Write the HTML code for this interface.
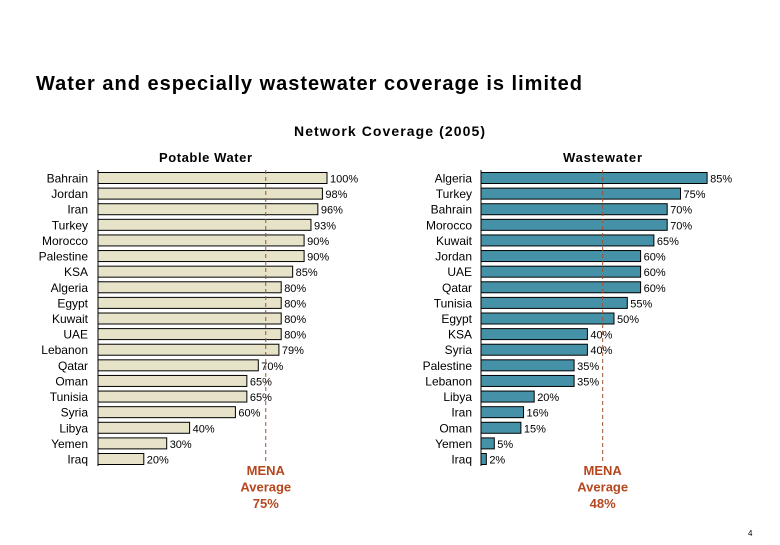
<!DOCTYPE html>
<html><head><meta charset="utf-8"><style>
body{margin:0;background:#fff;}
svg text{font-family:"Liberation Sans",Arial,sans-serif;}
</style></head><body>
<svg width="780" height="540" viewBox="0 0 780 540">
<text x="36" y="90" font-size="20" font-weight="bold" fill="#000" textLength="546" lengthAdjust="spacing">Water and especially wastewater coverage is limited</text>
<text x="294" y="136" font-size="14" font-weight="bold" textLength="191" lengthAdjust="spacing">Network Coverage (2005)</text>
<text x="159" y="162" font-size="13" font-weight="bold" textLength="93" lengthAdjust="spacing">Potable Water</text>
<text x="563" y="162" font-size="13" font-weight="bold" textLength="79" lengthAdjust="spacing">Wastewater</text>
<g id="left"></g><g id="right"></g>
<text x="748" y="536" font-size="8">4</text>
</svg>
<script>
const potableCountries=["Bahrain","Jordan","Iran","Turkey","Morocco","Palestine","KSA","Algeria","Egypt","Kuwait","UAE","Lebanon","Qatar","Oman","Tunisia","Syria","Libya","Yemen","Iraq"];
const potableValues=[100,98,96,93,90,90,85,80,80,80,80,79,70,65,65,60,40,30,20];
const wasteCountries=["Algeria","Turkey","Bahrain","Morocco","Kuwait","Jordan","UAE","Qatar","Tunisia","Egypt","KSA","Syria","Palestine","Lebanon","Libya","Iran","Oman","Yemen","Iraq"];
const wasteValues=[85,75,70,70,65,60,60,60,55,50,40,40,35,35,20,16,15,5,2];
const potableAvg=75;
const wasteAvg=48;
</script>
<script>
const NS="http://www.w3.org/2000/svg";
function mk(t,a,p){const e=document.createElementNS(NS,t);for(const k in a)e.setAttribute(k,a[k]);p.appendChild(e);return e;}
function panel(g,cats,vals,avg,x0,scale,labelX,fill,prefix,shift){
  const y0=178, step=(459-178)/(cats.length-1), bh=11;
  const yOf=i=>y0+i*step;
  const xOf=v=>x0+v*scale;
  const ax=mk("line",{x1:x0,x2:x0,y1:170,y2:466,stroke:"#000","stroke-width":1},g);
  
  
  cats.forEach((c,i)=>{
    const y=yOf(i);
    const t=mk("text",{x:labelX,y:y+4.5,"font-size":12,"text-anchor":"end"},g);t.textContent=c;
    
    
    const r=mk("rect",{x:x0,y:y-bh/2,width:xOf(vals[i])-x0,height:bh,fill:fill,stroke:"#000","stroke-width":1},g);
    
    
    const v=mk("text",{x:xOf(vals[i])+3,y:y+4.5,"font-size":11},g);v.textContent=vals[i]+"%";
    
    
  });
  const ax2=xOf(avg)+shift;
  const l=mk("line",{x1:ax2,x2:ax2,y1:170,y2:462,stroke:"#a0522d","stroke-width":1,"stroke-dasharray":"4,3"},g);
  
  
  ["MENA","Average",avg+"%"].forEach((s,k)=>{
    const t=mk("text",{x:ax2,y:475+k*16.5,"font-size":13,"font-weight":"bold","text-anchor":"middle",fill:"#b5471f"},g);t.textContent=s;
    
    
  });
}
panel(document.getElementById("left"),potableCountries,potableValues,potableAvg,98,2.29,88,"#e6e3c8","potable",-4);
panel(document.getElementById("right"),wasteCountries,wasteValues,wasteAvg,481,2.66,472,"#4592a8","wastewater",-6);
</script>
</body></html>
